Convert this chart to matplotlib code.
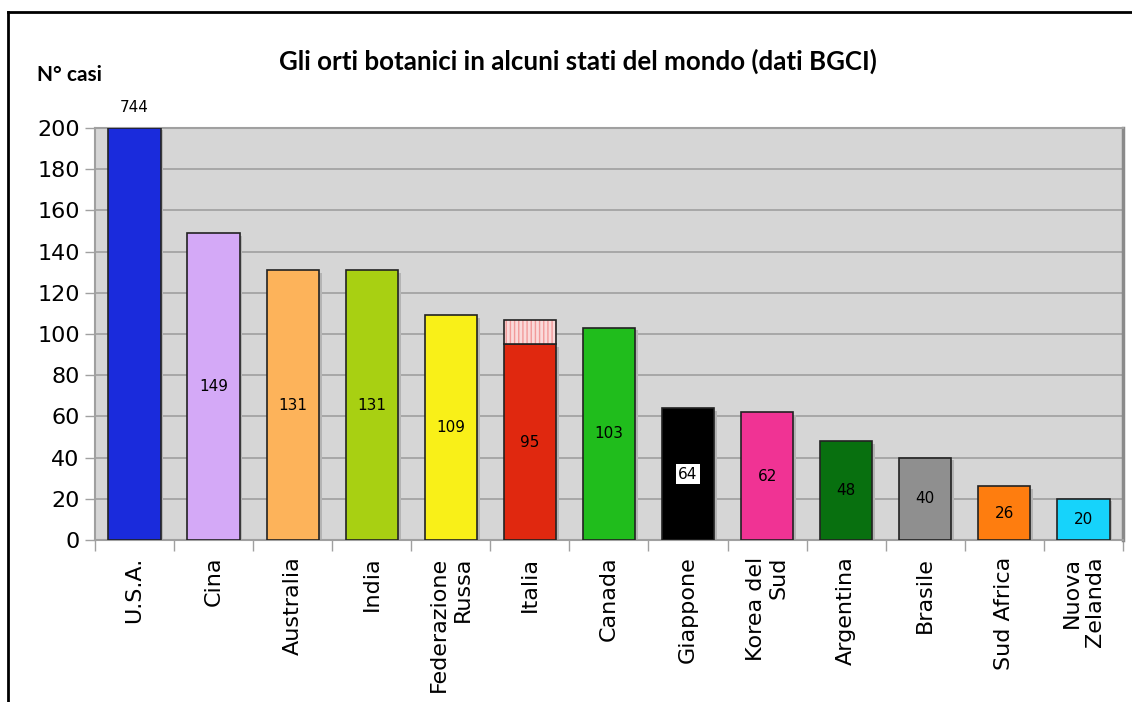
import numpy as np
import matplotlib
matplotlib.use("Agg")
import matplotlib.pyplot as plt
from matplotlib.lines import Line2D

# data
paesi = ["U.S.A.", "Cina", "Australia", "India", "Federazione\nRussa", "Italia",
         "Canada", "Giappone", "Korea del\nSud", "Argentina", "Brasile",
         "Sud Africa", "Nuova\nZelanda"]
valori = [744, 149, 131, 131, 109, 95, 103, 64, 62, 48, 40, 26, 20]
colori = ["#1a2bdc", "#d4a9f7", "#fdb35a", "#a8d012", "#f9f018", "#e0280f",
          "#20bd1c", "#000000", "#f03394", "#08700f", "#8f8f8f", "#fe7d0f",
          "#16d3fb"]
italia_extra = 12   # parte tratteggiata sopra Italia (95 -> 107)
y_max = 200

fig = plt.figure(figsize=(11.32, 7.02), dpi=100)
ax = fig.add_axes([0.0839, 0.2308, 0.9081, 0.5869])
ax.set_facecolor("#d6d6d6")

x = np.arange(len(paesi))
w = 0.66
alt = np.minimum(valori, y_max)

# ombra delle barre
ax.bar(x + 0.035, alt - 1.2, width=w, color="#b4b4b4", zorder=2, linewidth=0)
ax.bar(x, alt, width=w, color=colori, edgecolor="#222222", linewidth=1.2, zorder=3)

# Italia: parte tratteggiata
i_it = paesi.index("Italia")
ax.bar(x[i_it], italia_extra, bottom=valori[i_it], width=w, color="#fadada",
       edgecolor="#f29a9a", hatch="||||", linewidth=0, zorder=3)
ax.bar(x[i_it], italia_extra, bottom=valori[i_it], width=w, fill=False,
       edgecolor="#222222", linewidth=1.2, zorder=4)

# etichette dei valori
for xi, v, h in zip(x, valori, alt):
    if v > y_max:
        ax.text(xi, y_max + 9.7, str(v), ha="center", va="center",
                fontsize=11, clip_on=False)
    elif paesi[xi] == "Giappone":
        ax.text(xi, h / 2, str(v), ha="center", va="center", fontsize=11,
                zorder=5, bbox=dict(facecolor="white", edgecolor="none", pad=1.5))
    else:
        ax.text(xi, h / 2, str(v), ha="center", va="center", fontsize=11, zorder=5)

ax.set_xlim(-0.5, len(paesi) - 0.5)
ax.set_ylim(0, y_max)
ax.set_yticks(np.arange(0, 201, 20))
ax.yaxis.grid(True, color="#9a9a9a", linewidth=1.1, zorder=1)
ax.set_axisbelow(True)

ax.set_xticks(x)
ax.set_xticklabels(paesi, rotation=90, fontsize=16, multialignment="right")
ax.set_xticks(np.arange(-0.5, len(paesi), 1), minor=True)
ax.tick_params(axis="x", which="major", length=0, pad=12)
ax.tick_params(axis="x", which="minor", length=8, color="#a0a0a0", width=1)
ax.tick_params(axis="y", length=7, color="#a0a0a0", width=1, labelsize=16, pad=4)

for s in ax.spines.values():
    s.set_color("#a0a0a0")
    s.set_linewidth(1.5)
ax.spines["right"].set_color("#8a8a8a")
ax.spines["right"].set_linewidth(2.5)

fig.text(0.5106, 1 - 61 / 702, "Gli orti botanici in alcuni stati del mondo (dati BGCI)",
         ha="center", va="center", fontsize=18.6, fontweight="bold", family="Lato")
fig.text(37 / 1132, 1 - 75 / 702, "N° casi", ha="left", va="center",
         fontsize=15, fontweight="bold", family="Lato")

# cornice
fig.add_artist(Line2D([8 / 1132, 8 / 1132], [0, 1 - 12 / 702],
                      transform=fig.transFigure, color="black", linewidth=2))
fig.add_artist(Line2D([8 / 1132, 1], [1 - 12 / 702, 1 - 12 / 702],
                      transform=fig.transFigure, color="black", linewidth=2))

fig.savefig("out.png", dpi=100)
